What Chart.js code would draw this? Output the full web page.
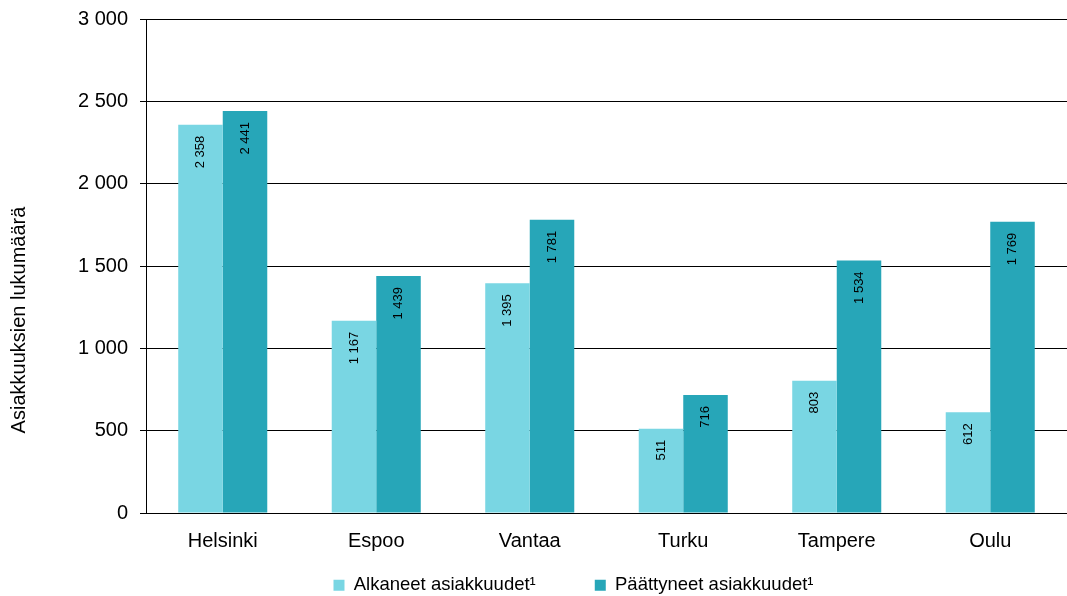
<!DOCTYPE html>
<html>
<head>
<meta charset="utf-8">
<script src="https://cdn.jsdelivr.net/npm/chart.js@4.4.1/dist/chart.umd.min.js"></script>
<style>
  html, body { margin: 0; padding: 0; background: #fff; }
  #wrap { width: 1067px; height: 596px; }
</style>
</head>
<body>
<div id="wrap"><canvas id="c"></canvas></div>
<script>
const kaupungit = ['Helsinki', 'Espoo', 'Vantaa', 'Turku', 'Tampere', 'Oulu'];
const alkaneet = [2358, 1167, 1395, 511, 803, 612];
const paattyneet = [2441, 1439, 1781, 716, 1534, 1769];
const yTicks = [0, 500, 1000, 1500, 2000, 2500, 3000];

const fontti = '"Liberation Sans", Arial, sans-serif';
const fmt = v => String(v).replace(/\B(?=(\d{3})+(?!\d))/g, ' ');
const seliteVali = 59;

// arvot pystyyn palkin sisään
const arvoPlugin = {
  id: 'arvot',
  afterDatasetsDraw(chart) {
    const ctx = chart.ctx;
    ctx.save();
    ctx.font = '13px ' + fontti;
    ctx.fillStyle = '#000';
    chart.data.datasets.forEach((ds, i) => {
      chart.getDatasetMeta(i).data.forEach((bar, j) => {
        ctx.save();
        ctx.translate(bar.x, bar.y + 11);
        ctx.rotate(-Math.PI / 2);
        ctx.textAlign = 'right';
        ctx.textBaseline = 'middle';
        ctx.fillText(fmt(ds.data[j]), 0, 0);
        ctx.restore();
      });
    });
    ctx.restore();
  }
};

// y-akselin otsikko
const otsikkoPlugin = {
  id: 'yotsikko',
  afterDraw(chart) {
    const ctx = chart.ctx;
    ctx.save();
    ctx.font = '20px ' + fontti;
    ctx.fillStyle = '#000';
    ctx.translate(19, 320);
    ctx.rotate(-Math.PI / 2);
    ctx.textAlign = 'center';
    ctx.textBaseline = 'middle';
    ctx.fillText('Asiakkuuksien lukumäärä', 0, 0);
    ctx.restore();
  }
};

// selitteen korkeus kiinteäksi ja paikka alas (iso padding vain vaakavälille)
const selitePlugin = {
  id: 'selite',
  beforeLayout(chart) {
    const lg = chart.legend;
    if (lg && !lg._kiinnitetty) {
      const alkup = lg.fit.bind(lg);
      lg.fit = function () { alkup(); this.height = 41; };
      lg._kiinnitetty = true;
    }
  },
  afterLayout(chart) {
    const lg = chart.legend;
    if (!lg) return;
    lg.top = 585 - seliteVali - 9;
    lg.left += 40;
    lg.right += 40;
  }
};

new Chart(document.getElementById('c'), {
  type: 'bar',
  data: {
    labels: kaupungit,
    datasets: [
      { label: 'Alkaneet asiakkuudet¹', data: alkaneet, backgroundColor: '#79d6e3' },
      { label: 'Päättyneet asiakkuudet¹', data: paattyneet, backgroundColor: '#27a6b8' }
    ]
  },
  options: {
    responsive: true,
    maintainAspectRatio: false,
    animation: false,
    layout: { padding: { top: 19, right: 0, left: 0, bottom: 0 } },
    datasets: { bar: { categoryPercentage: 0.58, barPercentage: 1 } },
    plugins: {
      tooltip: { enabled: false },
      legend: {
        position: 'bottom',
        labels: {
          boxWidth: 11,
          boxHeight: 11,
          padding: seliteVali,
          color: '#000',
          font: { size: 18.5, family: fontti }
        }
      }
    },
    scales: {
      x: {
        afterFit(scale) { scale.height = 42; },
        grid: { display: false },
        border: { display: true, color: '#000', width: 1 },
        ticks: { color: '#000', padding: 8, font: { size: 20, family: fontti } }
      },
      y: {
        min: 0,
        max: 3000,
        afterFit(scale) {
          scale.width = 146;
          scale.paddingTop = 0;
          scale.paddingBottom = 0;
        },
        afterBuildTicks(scale) { scale.ticks = yTicks.map(v => ({ value: v })); },
        grid: { color: '#000', lineWidth: 1, tickLength: 6 },
        border: { display: true, color: '#000', width: 1 },
        ticks: {
          color: '#000',
          padding: 12,
          callback: v => fmt(v),
          font: { size: 20, family: fontti }
        }
      }
    }
  },
  plugins: [arvoPlugin, otsikkoPlugin, selitePlugin]
});
</script>
</body>
</html>
